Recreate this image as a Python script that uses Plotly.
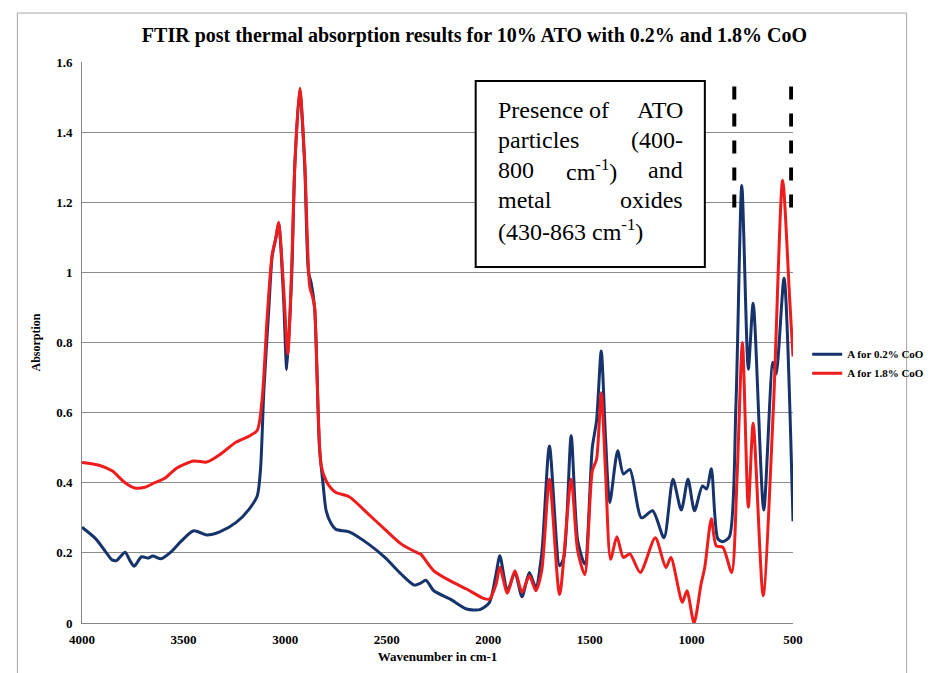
import plotly.graph_objects as go

# ---- data ----
wn_blue = [4000, 3932, 3880, 3852, 3830, 3788, 3764, 3743, 3707, 3675, 3651, 3611, 3563, 3514,
           3450, 3386, 3322, 3241, 3177, 3137, 3121, 3105, 3080, 3064, 3045, 3032, 3008, 2992,
           2968, 2952, 2928, 2904, 2885, 2872, 2855, 2831, 2814, 2798, 2775, 2750, 2685, 2589,
           2509, 2428, 2364, 2335, 2307, 2268, 2187, 2107, 2042, 1994, 1962, 1943, 1906, 1869,
           1834, 1798, 1766, 1737, 1699, 1649, 1628, 1592, 1560, 1525, 1488, 1467, 1444, 1423,
           1402, 1363, 1335, 1303, 1246, 1191, 1135, 1091, 1050, 1017, 985, 946, 925, 902, 870,
           845, 813, 781, 752, 720, 696, 644, 599, 583, 544, 500]
a_blue = [0.273, 0.24, 0.2, 0.18, 0.178, 0.202, 0.178, 0.162, 0.189, 0.185, 0.191, 0.183, 0.202, 0.232,
          0.263, 0.251, 0.26, 0.287, 0.325, 0.363, 0.44, 0.66, 0.9, 1.045, 1.1, 1.14, 0.93, 0.723,
          0.985, 1.31, 1.52, 1.31, 1.0, 0.97, 0.9, 0.5, 0.4, 0.32, 0.285, 0.267, 0.26, 0.225,
          0.187, 0.139, 0.108, 0.113, 0.122, 0.092, 0.068, 0.04, 0.038, 0.059, 0.139, 0.192, 0.092, 0.144,
          0.075, 0.144, 0.102, 0.197, 0.505, 0.163, 0.187, 0.534, 0.235, 0.168, 0.5, 0.577, 0.776, 0.53,
          0.344, 0.491, 0.425, 0.438, 0.30, 0.32, 0.243, 0.41, 0.322, 0.41, 0.32, 0.391, 0.382, 0.44, 0.24,
          0.232, 0.246, 0.62, 1.248, 0.724, 0.912, 0.322, 0.744, 0.71, 0.983, 0.29]

wn_red = [4000, 3916, 3852, 3788, 3740, 3691, 3643, 3595, 3531, 3450, 3386, 3322, 3241, 3177,
          3137, 3113, 3088, 3064, 3045, 3032, 3008, 2987, 2968, 2952, 2928, 2904, 2879, 2865,
          2855, 2823, 2798, 2775, 2750, 2685, 2589, 2509, 2428, 2348, 2332, 2268, 2187, 2107,
          2027, 1994, 1962, 1943, 1906, 1869, 1834, 1798, 1766, 1737, 1699, 1649, 1592, 1560,
          1525, 1488, 1467, 1444, 1423, 1398, 1367, 1335, 1303, 1252, 1178, 1126, 1101, 1045,
          1022, 987, 953, 934, 902, 878, 845, 802, 776, 749, 720, 696, 647, 596, 551, 516, 500]
a_red = [0.458, 0.45, 0.434, 0.40, 0.385, 0.387, 0.40, 0.412, 0.443, 0.462, 0.459, 0.48, 0.516, 0.533,
         0.55, 0.64, 0.876, 1.05, 1.1, 1.143, 0.96, 0.767, 1.01, 1.31, 1.525, 1.32, 0.96, 0.93,
         0.9, 0.45, 0.405, 0.385, 0.372, 0.36, 0.31, 0.267, 0.225, 0.2, 0.196, 0.149, 0.12, 0.097,
         0.071, 0.068, 0.11, 0.159, 0.085, 0.149, 0.087, 0.135, 0.092, 0.149, 0.41, 0.081, 0.41, 0.206,
         0.138, 0.434, 0.467, 0.657, 0.434, 0.182, 0.246, 0.187, 0.197, 0.144, 0.243, 0.158, 0.187, 0.059,
         0.092, 0.0, 0.11, 0.16, 0.297, 0.22, 0.216, 0.144, 0.406, 0.8, 0.33, 0.57, 0.078, 0.62, 1.263, 0.92, 0.76]

series_names = ["A for 0.2% CoO", "A for 1.8% CoO"]
x_ticks = [4000, 3500, 3000, 2500, 2000, 1500, 1000, 500]
y_ticks = [0, 0.2, 0.4, 0.6, 0.8, 1.0, 1.2, 1.4, 1.6]
y_ticktext = ["0", "0.2", "0.4", "0.6", "0.8", "1", "1.2", "1.4", "1.6"]
title_text = "FTIR post thermal absorption results for 10% ATO with 0.2% and 1.8% CoO"
x_title = "Wavenumber in cm-1"
y_title = "Absorption"
dash_x = [789, 509]
dash_y = [1.185, 1.545]

SERIF = "Liberation Serif, Times New Roman, serif"
BLUE = "#17336B"
RED = "#EE1C1C"

fig = go.Figure()
fig.add_trace(go.Scatter(x=wn_blue, y=a_blue, mode="lines", name="<b>" + series_names[0] + "</b>",
                         line=dict(color=BLUE, width=3, shape="spline", smoothing=0.7)))
fig.add_trace(go.Scatter(x=wn_red, y=a_red, mode="lines", name="<b>" + series_names[1] + "</b>",
                         line=dict(color=RED, width=3, shape="spline", smoothing=0.7)))

fig.update_layout(
    width=933, height=673,
    margin=dict(l=74, r=133, t=54, b=58),
    paper_bgcolor="white", plot_bgcolor="white",
    title=dict(text="<b>" + title_text + "</b>", xref="paper", x=0.552, xanchor="center",
               yref="container", y=1 - 27 / 673, yanchor="middle",
               font=dict(family=SERIF, size=20, color="black")),
    xaxis=dict(range=[4000, 500], tickvals=x_ticks,
               ticktext=["<b>%d</b>" % v for v in x_ticks],
               tickfont=dict(family=SERIF, size=13, color="black"),
               showgrid=False, zeroline=False, showline=True, linecolor="#868686", linewidth=1,
               ticks="", ticklen=0, ticklabelstandoff=4,
               title=dict(text="<b>" + x_title + "</b>", font=dict(family=SERIF, size=13, color="black"),
                          standoff=6)),
    yaxis=dict(range=[0, 1.6], tickvals=y_ticks,
               ticktext=["<b>%s</b>" % t for t in y_ticktext],
               tickfont=dict(family=SERIF, size=13, color="black"),
               showgrid=True, gridcolor="#8C8C8C", gridwidth=1, zeroline=False,
               showline=True, linecolor="#868686", linewidth=1, ticks="", ticklabelstandoff=6,
               title=dict(text="<b>" + y_title + "</b>", font=dict(family=SERIF, size=12, color="black"),
                          standoff=12)),
    legend=dict(x=1.02, y=0.505, xanchor="left", yanchor="top",
                font=dict(family=SERIF, size=11, color="black"),
                bgcolor="rgba(0,0,0,0)", itemwidth=30, tracegroupgap=2),
    showlegend=True,
)

# outer chart frame
fig.add_shape(type="rect", xref="paper", yref="paper", x0=-0.0909, x1=1.1598, y0=-0.12, y1=1.0873,
              line=dict(color="#A6A6A6", width=1), fillcolor="rgba(0,0,0,0)", layer="below")

# text box
fig.add_shape(type="rect", xref="paper", yref="paper", x0=0.5537, x1=0.876, y0=0.6346, y1=0.966,
              line=dict(color="black", width=2), fillcolor="white", layer="above")

# dashed marker lines
for dx in dash_x:
    fig.add_shape(type="line", xref="x", yref="y", x0=dx, x1=dx, y0=dash_y[0], y1=dash_y[1],
                  line=dict(color="black", width=4, dash="13px,14px"))

TF = dict(family=SERIF, size=24, color="black")
xl, xr = 0.5826, 0.8485
rows = [0.9144, 0.8610, 0.8075, 0.7540, 0.7005]
words = [
    (xl, rows[0], "Presence", "left"), (0.727, rows[0], "of", "center"), (xr, rows[0], "ATO", "right"),
    (xl, rows[1], "particles", "left"), (xr, rows[1], "(400-", "right"),
    (xl, rows[2], "800", "left"), (0.717, rows[2], "cm<sup>-1</sup>)", "center"), (xr, rows[2], "and", "right"),
    (xl, rows[3], "metal", "left"), (xr, rows[3], "oxides", "right"),
    (xl, rows[4], "(430-863 cm<sup>-1</sup>)", "left"),
]
for x, y, t, anc in words:
    fig.add_annotation(xref="paper", yref="paper", x=x, y=y, text=t, showarrow=False,
                       xanchor=anc, yanchor="middle", font=TF)

fig.write_html("out.html")
